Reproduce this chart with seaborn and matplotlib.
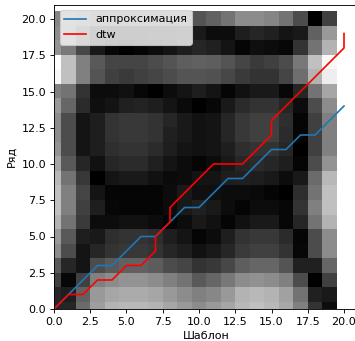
import numpy as np
import pandas as pd
import matplotlib
matplotlib.use("Agg")
import matplotlib.pyplot as plt
import seaborn as sns

# cost matrix (rows = "Ряд" index 0..20 bottom->top, cols = "Шаблон" index 0..19)
cost = [
    [0.15, 0.15, 0.42, 0.62, 0.70, 0.72, 0.72, 0.70, 0.65, 0.60, 0.55, 0.60, 0.65, 0.72, 0.75, 0.72, 0.66, 0.50, 0.20, 0.05],  # 0
    [0.15, 0.12, 0.38, 0.60, 0.65, 0.67, 0.67, 0.65, 0.60, 0.55, 0.50, 0.53, 0.60, 0.70, 0.72, 0.70, 0.63, 0.45, 0.13, 0.10],  # 1
    [0.25, 0.03, 0.25, 0.50, 0.55, 0.58, 0.58, 0.55, 0.50, 0.45, 0.35, 0.40, 0.47, 0.55, 0.57, 0.55, 0.50, 0.30, 0.00, 0.25],  # 2
    [0.35, 0.15, 0.08, 0.30, 0.35, 0.38, 0.38, 0.36, 0.30, 0.27, 0.20, 0.22, 0.28, 0.37, 0.40, 0.40, 0.33, 0.13, 0.13, 0.40],  # 3
    [0.55, 0.30, 0.08, 0.15, 0.20, 0.22, 0.22, 0.20, 0.15, 0.12, 0.07, 0.10, 0.15, 0.23, 0.25, 0.25, 0.20, 0.03, 0.30, 0.55],  # 4
    [0.60, 0.35, 0.12, 0.10, 0.18, 0.20, 0.20, 0.18, 0.12, 0.08, 0.02, 0.05, 0.12, 0.20, 0.22, 0.22, 0.17, 0.02, 0.30, 0.55],  # 5
    [0.70, 0.45, 0.23, 0.05, 0.05, 0.07, 0.07, 0.05, 0.02, 0.05, 0.10, 0.07, 0.02, 0.07, 0.10, 0.10, 0.03, 0.15, 0.45, 0.70],  # 6
    [0.75, 0.50, 0.25, 0.12, 0.03, 0.02, 0.02, 0.02, 0.05, 0.10, 0.13, 0.10, 0.05, 0.02, 0.05, 0.05, 0.03, 0.20, 0.50, 0.75],  # 7
    [0.75, 0.50, 0.27, 0.08, 0.02, 0.02, 0.02, 0.02, 0.05, 0.10, 0.06, 0.06, 0.05, 0.05, 0.04, 0.02, 0.00, 0.18, 0.45, 0.75],  # 8
    [0.72, 0.45, 0.22, 0.00, 0.08, 0.10, 0.10, 0.07, 0.04, 0.05, 0.08, 0.08, 0.12, 0.13, 0.12, 0.10, 0.05, 0.10, 0.42, 0.72],  # 9
    [0.65, 0.35, 0.15, 0.07, 0.15, 0.17, 0.17, 0.13, 0.08, 0.05, 0.02, 0.05, 0.10, 0.15, 0.17, 0.15, 0.12, 0.02, 0.30, 0.58],  # 10
    [0.58, 0.30, 0.08, 0.12, 0.18, 0.20, 0.20, 0.17, 0.12, 0.08, 0.07, 0.08, 0.12, 0.18, 0.20, 0.20, 0.15, 0.00, 0.25, 0.50],  # 11
    [0.55, 0.30, 0.08, 0.12, 0.20, 0.22, 0.22, 0.20, 0.13, 0.10, 0.07, 0.08, 0.15, 0.22, 0.25, 0.25, 0.17, 0.02, 0.25, 0.50],  # 12
    [0.55, 0.30, 0.08, 0.12, 0.20, 0.22, 0.22, 0.20, 0.15, 0.10, 0.07, 0.08, 0.15, 0.22, 0.25, 0.25, 0.18, 0.02, 0.25, 0.50],  # 13
    [0.60, 0.40, 0.17, 0.06, 0.08, 0.13, 0.14, 0.12, 0.08, 0.04, 0.00, 0.03, 0.10, 0.17, 0.20, 0.20, 0.15, 0.05, 0.30, 0.55],  # 14
    [0.50, 0.45, 0.20, 0.05, 0.05, 0.07, 0.03, 0.00, 0.05, 0.08, 0.12, 0.08, 0.02, 0.07, 0.10, 0.10, 0.03, 0.15, 0.45, 0.65],  # 15
    [0.97, 0.75, 0.50, 0.33, 0.25, 0.23, 0.25, 0.27, 0.30, 0.33, 0.33, 0.32, 0.28, 0.23, 0.20, 0.20, 0.27, 0.43, 0.70, 0.93],  # 16
    [1.00, 0.75, 0.50, 0.35, 0.27, 0.27, 0.27, 0.30, 0.33, 0.37, 0.38, 0.37, 0.33, 0.27, 0.23, 0.25, 0.30, 0.47, 0.75, 0.97],  # 17
    [0.58, 0.48, 0.28, 0.10, 0.03, 0.00, 0.02, 0.05, 0.08, 0.12, 0.15, 0.13, 0.08, 0.02, 0.06, 0.05, 0.03, 0.20, 0.45, 0.70],  # 18
    [0.55, 0.45, 0.28, 0.12, 0.08, 0.07, 0.06, 0.08, 0.08, 0.10, 0.10, 0.05, 0.05, 0.12, 0.15, 0.13, 0.08, 0.10, 0.38, 0.60],  # 19
    [0.52, 0.45, 0.40, 0.35, 0.35, 0.33, 0.33, 0.33, 0.33, 0.33, 0.33, 0.38, 0.45, 0.55, 0.55, 0.52, 0.45, 0.30, 0.00, 0.25],  # 20
]

approx_x = [0, 1, 2, 3, 4, 5, 6, 7, 8, 9, 10, 11, 12, 13, 14, 15, 16, 17, 18, 19, 20]
approx_y = [0, 1, 2, 3, 3, 4, 5, 5, 6, 7, 7, 8, 9, 9, 10, 11, 11, 12, 12, 13, 14]

dtw_x = [0, 1, 2, 3, 4, 5, 6, 7, 7, 8, 8, 9, 10, 11, 12, 13, 14, 15, 15, 16, 17, 18, 19, 20, 20]
dtw_y = [0, 1, 1, 2, 2, 3, 3, 4, 5, 6, 7, 8, 9, 10, 10, 10, 11, 12, 13, 14, 15, 16, 17, 18, 19]

label_approx = "аппроксимация"
label_dtw = "dtw"
xlabel = "Шаблон"
ylabel = "Ряд"

W, H = 355, 341
DPI = 80
fig = plt.figure(figsize=(W / DPI, H / DPI), dpi=DPI)
unit = 14.5
x_max, y_max = 21.025, 21.0
ax = fig.add_axes([54 / W, 32 / H, x_max * unit / W, y_max * unit / H])

ax.imshow(np.array(cost), cmap="gray", origin="lower", aspect="auto",
          interpolation="nearest", vmin=0, vmax=1)

df_a = pd.DataFrame({"x": approx_x, "y": approx_y})
df_d = pd.DataFrame({"x": dtw_x, "y": dtw_y})
sns.lineplot(data=df_a, x="x", y="y", sort=False, estimator=None,
             color="#1f77b4", linewidth=1.5, label=label_approx, ax=ax)
sns.lineplot(data=df_d, x="x", y="y", sort=False, estimator=None,
             color="red", linewidth=1.5, label=label_dtw, ax=ax)

ax.set_xlim(0, x_max)
ax.set_ylim(0, y_max)
ax.set_xticks([0, 2.5, 5, 7.5, 10, 12.5, 15, 17.5, 20])
ax.set_yticks([0, 2.5, 5, 7.5, 10, 12.5, 15, 17.5, 20])
ax.set_xlabel(xlabel)
ax.set_ylabel(ylabel)
ax.legend(loc="upper left")

fig.savefig("out.png", dpi=DPI)
